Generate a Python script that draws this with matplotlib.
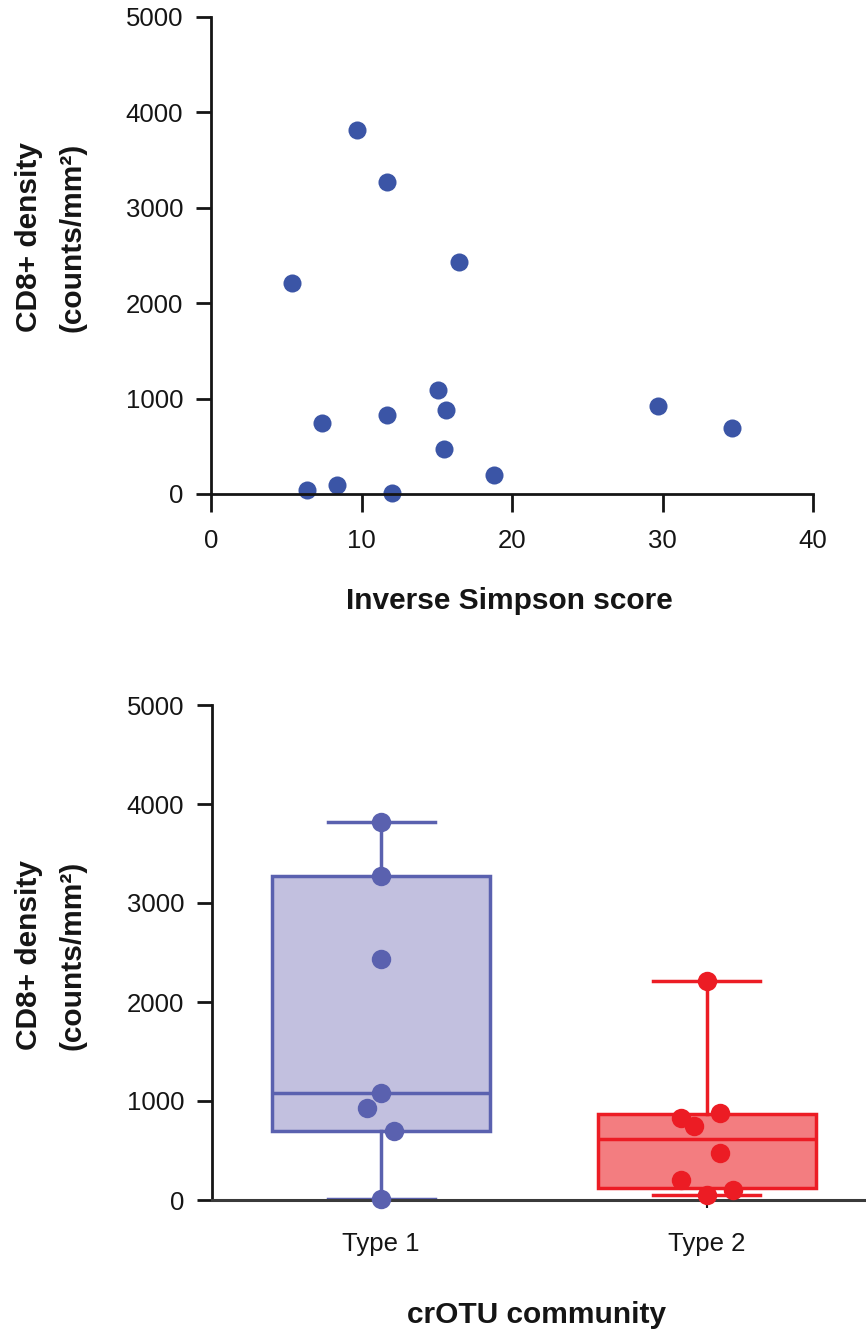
import numpy as np
import matplotlib
matplotlib.use("Agg")
import matplotlib.pyplot as plt

plt.rcParams['font.family'] = ['Liberation Sans', 'DejaVu Sans']

# ---- data ----
inv_simpson = [5.4, 9.7, 11.7, 16.5, 15.1, 15.6, 11.7, 7.4, 15.5, 18.8, 6.4, 8.4, 12.0, 29.7, 34.6]
cd8_density = [2216, 3820, 3275, 2430, 1085, 882, 832, 747, 476, 199, 47, 96, 10, 926, 694]
community = [2, 1, 1, 1, 1, 2, 2, 2, 2, 2, 2, 2, 1, 1, 1]
jitter = [0, 0, 0, 0, 0, 0.04, -0.08, -0.04, 0.04, -0.08, 0, 0.08, 0, -0.045, 0.04]
groups = ["Type 1", "Type 2"]
x_ticks = [0, 10, 20, 30, 40]
y_ticks = [0, 1000, 2000, 3000, 4000, 5000]

W, H = 866, 1331
fig = plt.figure(figsize=(W / 100, H / 100), dpi=100)

def ax_rect(l, t, r, b):
    return [l / W, 1 - b / H, (r - l) / W, (b - t) / H]

tick_fs = 18.5
lab_fs = 21.5
ink = '#151515'

def ylab(cy):
    fig.text(37 / W, 1 - cy / H, "CD8+ density", rotation=90, fontsize=lab_fs, fontweight='bold',
             ha='center', va='baseline', rotation_mode='anchor', color=ink)
    fig.text(80 / W, 1 - cy / H, "(counts/mm²)", rotation=90, fontsize=lab_fs, fontweight='bold',
             ha='center', va='baseline', rotation_mode='anchor', color=ink)

# ---- scatter ----
ax1 = fig.add_axes(ax_rect(211, 17, 813, 494))
ax1.plot(inv_simpson, cd8_density, 'o', color='#3B55A6', markersize=13, markeredgewidth=0, clip_on=False)
ax1.set_xlim(0, 40)
ax1.set_ylim(0, 5000)
ax1.set_xticks(x_ticks)
ax1.set_yticks(y_ticks)
for s in ['top', 'right']:
    ax1.spines[s].set_visible(False)
for s in ['left', 'bottom']:
    ax1.spines[s].set_linewidth(2)
    ax1.spines[s].set_color(ink)
ax1.tick_params(axis='x', length=13, width=2, pad=12, labelsize=tick_fs, colors=ink)
ax1.tick_params(axis='y', length=11, width=2, pad=9, labelsize=tick_fs, colors=ink)
fig.text(509 / W, 1 - 609 / H, "Inverse Simpson score", fontsize=lab_fs, fontweight='bold',
         ha='center', va='baseline', color=ink)
ylab(237)

# ---- box plot ----
ax2 = fig.add_axes(ax_rect(212, 705, 866, 1200))
cd8 = np.array(cd8_density, dtype=float)
comm = np.array(community)
jit = np.array(jitter)
edge_cols = ['#5A61AF', '#EC1C24']
fill_cols = ['#C2C0DF', '#F37D80']
stats = []
for gi in (1, 2):
    v = cd8[comm == gi]
    q1, med, q3 = np.percentile(v, [25, 50, 75], method='weibull')
    stats.append(dict(med=med, q1=q1, q3=q3, whislo=v.min(), whishi=v.max(), fliers=[], label=groups[gi - 1]))

bp = ax2.bxp(stats, positions=[1, 2], widths=0.67, capwidths=0.33, patch_artist=True, showfliers=False)
for i in range(2):
    bp['boxes'][i].set(facecolor=fill_cols[i], edgecolor=edge_cols[i], linewidth=2.5)
    bp['medians'][i].set(color=edge_cols[i], linewidth=2.5)
    for k in (2 * i, 2 * i + 1):
        bp['whiskers'][k].set(color=edge_cols[i], linewidth=2.5)
        bp['caps'][k].set(color=edge_cols[i], linewidth=2.5)

for gi in (1, 2):
    m = comm == gi
    ax2.plot(gi + jit[m], cd8[m], 'o', color=edge_cols[gi - 1], markersize=14, markeredgewidth=0,
             clip_on=False, zorder=5)

ax2.set_xlim(0.48, 2.49)
ax2.set_ylim(0, 5000)
ax2.set_yticks(y_ticks)
ax2.set_xticks([1, 2])
ax2.set_xticklabels(groups)
for s in ['top', 'right']:
    ax2.spines[s].set_visible(False)
ax2.spines['left'].set_linewidth(2)
ax2.spines['left'].set_color(ink)
ax2.spines['bottom'].set_linewidth(2.2)
ax2.spines['bottom'].set_color('#3a3a3a')
ax2.tick_params(axis='x', length=6, width=1.5, pad=17, labelsize=tick_fs, colors=ink)
ax2.tick_params(axis='y', length=11, width=2, pad=9, labelsize=tick_fs, colors=ink)
fig.text(537 / W, 1 - 1323 / H, "crOTU community", fontsize=lab_fs, fontweight='bold',
         ha='center', va='baseline', color=ink)
ylab(955)

fig.savefig("out.png", dpi=100)
